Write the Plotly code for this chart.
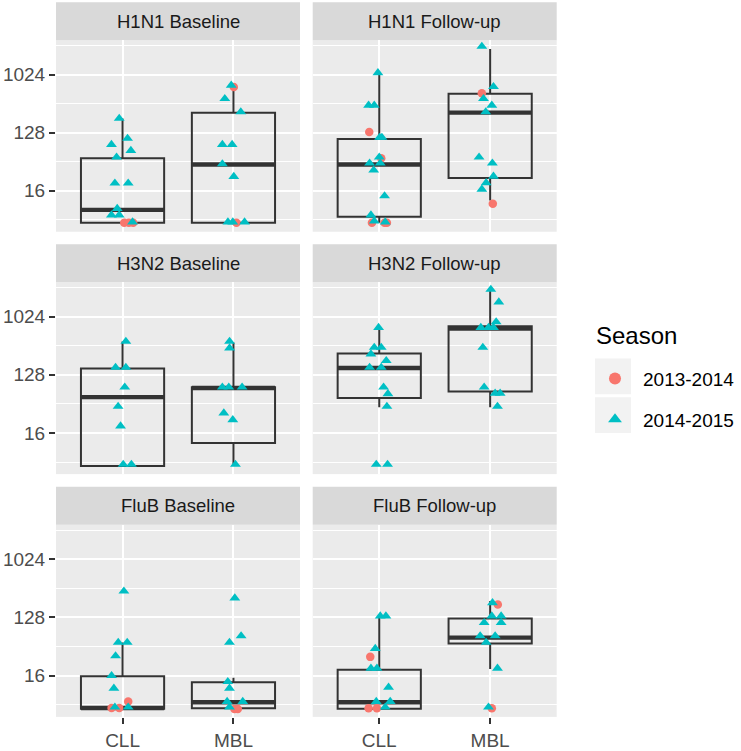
import numpy as np
import plotly.graph_objects as go

# ---------------- data (titers stored as log2 values) -------------
groups = ["CLL", "MBL"]
group_pos = {"CLL": 1, "MBL": 2}
seasons = ["2013-2014", "2014-2015"]
season_code = {"13": "2013-2014", "14": "2014-2015"}
season_color = {"2013-2014": "#F8766D", "2014-2015": "#00BFC4"}
season_symbol = {"2013-2014": "circle", "2014-2015": "triangle-up"}
panels = ["H1N1 Baseline", "H1N1 Follow-up",
          "H3N2 Baseline", "H3N2 Follow-up",
          "FluB Baseline", "FluB Follow-up"]
y_tick_vals = [16, 128, 1024]
y_minor_log2 = [2.5, 5.5, 8.5, 11.5]

# points: (group, season, log2 titer, horizontal jitter)
pts_h1n1_base = [
    ("CLL", "14", 7.73, -0.03), ("CLL", "14", 6.70, 0.045), ("CLL", "14", 6.38, -0.10),
    ("CLL", "14", 6.07, 0.075), ("CLL", "14", 5.73, -0.054), ("CLL", "14", 4.39, -0.069),
    ("CLL", "14", 4.39, 0.051), ("CLL", "14", 3.08, -0.048), ("CLL", "14", 2.74, -0.10),
    ("CLL", "14", 2.74, -0.03), ("CLL", "14", 2.38, 0.09), ("CLL", "13", 2.34, 0.015),
    ("CLL", "13", 2.34, 0.057), ("CLL", "13", 2.34, 0.096),
    ("MBL", "14", 9.44, -0.02), ("MBL", "13", 9.35, 0.003), ("MBL", "14", 8.75, -0.078),
    ("MBL", "14", 8.07, 0.066), ("MBL", "14", 6.38, -0.10), ("MBL", "14", 6.38, -0.012),
    ("MBL", "14", 5.38, -0.10), ("MBL", "14", 4.73, 0.003), ("MBL", "14", 2.38, -0.05),
    ("MBL", "14", 2.38, -0.006), ("MBL", "14", 2.38, 0.10), ("MBL", "13", 2.34, 0.027),
]
pts_h1n1_fu = [
    ("CLL", "14", 10.09, -0.012), ("CLL", "14", 8.41, -0.096), ("CLL", "14", 8.41, -0.045),
    ("CLL", "13", 7.03, -0.09), ("CLL", "14", 6.75, 0.003), ("CLL", "14", 6.75, 0.024),
    ("CLL", "14", 5.73, 0.0), ("CLL", "13", 5.68, 0.018), ("CLL", "14", 5.42, -0.087),
    ("CLL", "14", 5.42, 0.009), ("CLL", "14", 5.06, -0.05), ("CLL", "14", 3.73, 0.048),
    ("CLL", "14", 2.74, -0.075), ("CLL", "14", 2.43, -0.045), ("CLL", "14", 2.38, 0.054),
    ("CLL", "13", 2.34, -0.066), ("CLL", "13", 2.34, 0.048), ("CLL", "13", 2.34, 0.069),
    ("MBL", "14", 11.45, -0.075), ("MBL", "14", 9.37, 0.03), ("MBL", "13", 9.03, -0.075),
    ("MBL", "14", 8.75, -0.06), ("MBL", "14", 8.41, 0.015), ("MBL", "14", 8.07, -0.04),
    ("MBL", "14", 5.73, -0.10), ("MBL", "14", 5.42, 0.02), ("MBL", "14", 4.74, 0.03),
    ("MBL", "14", 4.41, -0.036), ("MBL", "14", 4.07, -0.075), ("MBL", "13", 3.33, 0.024),
]
pts_h3n2_base = [
    ("CLL", "14", 8.72, 0.03), ("CLL", "14", 7.38, -0.063), ("CLL", "14", 7.38, 0.03),
    ("CLL", "14", 6.36, 0.02), ("CLL", "14", 5.37, -0.04), ("CLL", "14", 4.36, -0.018),
    ("CLL", "14", 2.38, 0.006), ("CLL", "14", 2.38, 0.08),
    ("MBL", "14", 8.72, -0.035), ("MBL", "14", 8.38, -0.035), ("MBL", "14", 6.36, -0.10),
    ("MBL", "14", 6.36, -0.042), ("MBL", "14", 6.36, 0.078), ("MBL", "14", 5.03, -0.087),
    ("MBL", "14", 4.68, -0.006), ("MBL", "14", 2.38, 0.018),
]
pts_h3n2_fu = [
    ("CLL", "14", 9.44, -0.006), ("CLL", "14", 8.41, -0.045), ("CLL", "14", 8.41, 0.018),
    ("CLL", "14", 8.07, -0.075), ("CLL", "14", 7.73, 0.063), ("CLL", "14", 7.38, -0.087),
    ("CLL", "14", 7.38, 0.018), ("CLL", "14", 6.36, 0.039), ("CLL", "14", 6.02, 0.078),
    ("CLL", "14", 5.37, 0.069), ("CLL", "14", 2.38, -0.027), ("CLL", "14", 2.38, 0.075),
    ("MBL", "14", 11.40, 0.006), ("MBL", "14", 10.75, 0.078), ("MBL", "14", 9.73, 0.054),
    ("MBL", "14", 9.44, -0.084), ("MBL", "14", 9.44, -0.015), ("MBL", "14", 9.44, 0.03),
    ("MBL", "14", 8.41, -0.066), ("MBL", "14", 6.36, -0.054), ("MBL", "14", 6.05, 0.045),
    ("MBL", "14", 6.05, 0.09), ("MBL", "14", 5.37, 0.066),
]
pts_flub_base = [
    ("CLL", "14", 8.35, 0.012), ("CLL", "14", 5.71, -0.039), ("CLL", "14", 5.71, 0.042),
    ("CLL", "14", 5.02, -0.063), ("CLL", "14", 4.00, -0.099), ("CLL", "14", 3.35, -0.078),
    ("CLL", "13", 2.67, 0.051), ("CLL", "13", 2.34, -0.099), ("CLL", "13", 2.34, -0.03),
    ("CLL", "14", 2.38, -0.069), ("CLL", "14", 2.38, 0.051),
    ("MBL", "14", 8.00, 0.012), ("MBL", "14", 6.05, 0.069), ("MBL", "14", 5.71, -0.036),
    ("MBL", "14", 3.69, -0.051), ("MBL", "14", 3.35, -0.036), ("MBL", "14", 2.67, -0.057),
    ("MBL", "14", 2.67, 0.084), ("MBL", "14", 2.38, -0.036), ("MBL", "13", 2.29, 0.009),
    ("MBL", "13", 2.29, 0.039),
]
pts_flub_fu = [
    ("CLL", "14", 7.07, 0.009), ("CLL", "14", 7.07, 0.06), ("CLL", "14", 5.40, -0.036),
    ("CLL", "13", 4.97, -0.081), ("CLL", "14", 4.38, -0.075), ("CLL", "14", 4.38, -0.021),
    ("CLL", "14", 3.40, 0.084), ("CLL", "14", 2.67, -0.027), ("CLL", "14", 2.67, 0.099),
    ("CLL", "13", 2.33, -0.096), ("CLL", "13", 2.33, -0.021), ("CLL", "14", 2.38, 0.054),
    ("MBL", "14", 7.75, 0.021), ("MBL", "13", 7.67, 0.069), ("MBL", "14", 7.07, 0.015),
    ("MBL", "14", 7.07, 0.099), ("MBL", "14", 6.73, -0.054), ("MBL", "14", 6.73, 0.099),
    ("MBL", "14", 6.05, -0.09), ("MBL", "14", 6.05, 0.045), ("MBL", "14", 5.71, -0.036),
    ("MBL", "14", 4.38, 0.066), ("MBL", "14", 2.38, -0.015), ("MBL", "13", 2.33, 0.015),
]

# box statistics (log2): lower whisker, q1, median, q3, upper whisker
box_h1n1_base = {"CLL": (2.34, 2.34, 3.01, 5.675, 7.73), "MBL": (2.34, 2.34, 5.35, 8.03, 9.35)}
box_h1n1_fu = {"CLL": (2.34, 2.65, 5.35, 6.67, 10.09), "MBL": (3.50, 4.65, 8.03, 9.01, 11.32)}
box_h3n2_base = {"CLL": (2.30, 2.30, 5.85, 7.33, 8.72), "MBL": (2.34, 3.49, 6.32, 6.36, 8.67)}
box_h3n2_fu = {"CLL": (5.33, 5.81, 7.35, 8.10, 9.40), "MBL": (5.33, 6.14, 9.38, 9.50, 11.40)}
box_flub_base = {"CLL": (2.30, 2.30, 2.34, 3.97, 5.71), "MBL": (2.30, 2.33, 2.63, 3.66, 3.90)}
box_flub_fu = {"CLL": (2.30, 2.30, 2.63, 4.31, 7.07), "MBL": (4.34, 5.66, 5.96, 6.95, 7.84)}

panel_points = [pts_h1n1_base, pts_h1n1_fu, pts_h3n2_base, pts_h3n2_fu, pts_flub_base, pts_flub_fu]
panel_boxes = [box_h1n1_base, box_h1n1_fu, box_h3n2_base, box_h3n2_fu, box_flub_base, box_flub_fu]

# ---------------- layout geometry ----------------
W, H = 741, 751
col_x = [(56.0, 300.0), (312.7, 556.7)]
row_panel = [(40.5, 233.3), (284.2, 477.3), (528.3, 721.7)]
strip_h = 38.3
log_lo, log_hi = 1.88, 11.77
yrange = [log_lo * np.log10(2), log_hi * np.log10(2)]
FONT = "Liberation Sans, Arial, Helvetica, sans-serif"
BOX_W = 0.75

fig = go.Figure()
layout = dict(
    width=W, height=H, margin=dict(l=0, r=0, t=0, b=0),
    paper_bgcolor="white", plot_bgcolor="#EBEBEB",
    font=dict(family=FONT, size=19, color="#4D4D4D"),
    showlegend=True,
)
shapes, annotations = [], []

for i, name in enumerate(panels):
    row, col = divmod(i, 2)
    k = i + 1
    sfx = "" if k == 1 else str(k)
    x0, x1 = col_x[col]
    yt, yb = row_panel[row]
    layout["xaxis" + sfx] = dict(
        domain=[x0 / W, x1 / W], range=[0.4, 2.6], anchor="y" + sfx,
        tickvals=[group_pos[g] for g in groups], ticktext=groups,
        showticklabels=(row == 2), ticks="outside" if row == 2 else "",
        ticklen=6, tickwidth=1.6, tickcolor="#333333",
        tickfont=dict(size=19, color="#4D4D4D", family=FONT),
        showgrid=True, gridcolor="white", gridwidth=2.4, zeroline=False,
        showline=False, fixedrange=True,
    )
    layout["yaxis" + sfx] = dict(
        domain=[1 - yb / H, 1 - yt / H], type="log", range=yrange, anchor="x" + sfx,
        tickvals=y_tick_vals, ticktext=[str(v) for v in y_tick_vals],
        showticklabels=(col == 0), ticks="outside" if col == 0 else "",
        ticklen=6, tickwidth=1.6, tickcolor="#333333",
        tickfont=dict(size=19, color="#4D4D4D", family=FONT),
        showgrid=True, gridcolor="white", gridwidth=2.4, zeroline=False,
        minor=dict(tickvals=[2 ** v for v in y_minor_log2], showgrid=True,
                   gridcolor="white", gridwidth=1.2, ticks=""),
        showline=False, fixedrange=True,
    )
    # strip
    shapes.append(dict(type="rect", xref="paper", yref="paper",
                       x0=x0 / W, x1=x1 / W, y0=1 - yt / H, y1=1 - (yt - strip_h) / H,
                       fillcolor="#D9D9D9", line=dict(width=0), layer="below"))
    annotations.append(dict(text=name, xref="paper", yref="paper",
                            x=(x0 + x1) / 2 / W, y=1 - (yt - strip_h / 2) / H,
                            xanchor="center", yanchor="middle", showarrow=False,
                            font=dict(size=18.5, color="#1A1A1A", family=FONT)))

    # boxes
    for g in groups:
        lf, q1, med, q3, uf = [2 ** v for v in panel_boxes[i][g]]
        pos = group_pos[g]
        fig.add_trace(go.Box(
            x=[pos], q1=[q1], median=[med], q3=[q3], lowerfence=[lf], upperfence=[uf],
            width=BOX_W, whiskerwidth=0, fillcolor="rgba(0,0,0,0)",
            line=dict(color="#333333", width=2), boxpoints=False,
            xaxis="x" + sfx, yaxis="y" + sfx, showlegend=False, hoverinfo="skip"))
        fig.add_trace(go.Scatter(
            x=[pos - BOX_W / 2, pos + BOX_W / 2], y=[med, med], mode="lines",
            line=dict(color="#333333", width=4.4), xaxis="x" + sfx, yaxis="y" + sfx,
            showlegend=False, hoverinfo="skip"))

    # points
    for s in seasons:
        sel = [p for p in panel_points[i] if season_code[p[1]] == s]
        fig.add_trace(go.Scatter(
            x=[group_pos[p[0]] + p[3] for p in sel],
            y=[2 ** p[2] for p in sel],
            mode="markers", name=s, legendgroup=s, showlegend=(i == 0),
            marker=dict(color=season_color[s], symbol=season_symbol[s],
                        size=8.5 if s == "2013-2014" else 9.5, line=dict(width=0)),
            xaxis="x" + sfx, yaxis="y" + sfx, hoverinfo="skip"))

# legend key backgrounds
for j in range(len(seasons)):
    ky0 = 361 + j * 39
    shapes.append(dict(type="rect", xref="paper", yref="paper",
                       x0=595 / W, x1=631 / W, y0=1 - (ky0 + 36) / H, y1=1 - ky0 / H,
                       fillcolor="#F2F2F2", line=dict(width=0), layer="below"))
annotations.append(dict(text="Season", xref="paper", yref="paper",
                        x=594 / W, y=1 - 338 / H, xanchor="left", yanchor="middle",
                        showarrow=False, font=dict(size=24, color="black", family=FONT)))

layout["shapes"] = shapes
layout["annotations"] = annotations
layout["legend"] = dict(
    x=587 / W, xanchor="left", y=1 - 362 / H, yanchor="top",
    font=dict(size=19, color="black", family=FONT),
    bgcolor="rgba(0,0,0,0)", traceorder="grouped", tracegroupgap=13,
    itemsizing="constant", itemwidth=46,
)
fig.update_layout(**layout)
fig.write_html("out.html", config={"displayModeBar": False},
               post_script="document.body.style.margin='0px';")
